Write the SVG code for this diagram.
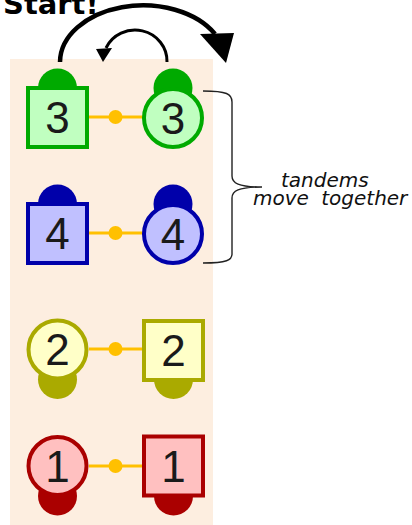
<svg xmlns="http://www.w3.org/2000/svg" width="412" height="525" viewBox="0 0 412 525">
<style>
.num{font-family:"Liberation Sans",Arial,sans-serif;font-size:44px;text-anchor:middle;fill:#1a1a1a}
.note{font-family:"DejaVu Sans",Verdana,sans-serif;font-size:20px;font-style:italic;fill:#111}
.title{font-family:"DejaVu Sans",Verdana,sans-serif;font-size:29px;font-weight:bold;fill:#000}
.link{stroke:#FFC000;stroke-width:3;fill:none}
.dot{fill:#FFC000}
.g .body{fill:#C0FFC0;stroke:#00AA00;stroke-width:4}.g .dome{fill:#00AA00}
.b .body{fill:#C0C0FF;stroke:#0000AA;stroke-width:4}.b .dome{fill:#0000AA}
.y .body{fill:#FFFFC8;stroke:#AAAA00;stroke-width:4}.y .dome{fill:#AAAA00}
.r .body{fill:#FFC0C0;stroke:#AA0000;stroke-width:4}.r .dome{fill:#AA0000}
.arc{fill:none;stroke:#000}
</style>
<rect x="10" y="59" width="203" height="470" fill="#FDEEE0"/>
<text class="title" x="3" y="14">Start!</text>
<g id="connectors">
<path class="arc" stroke-width="4.5" d="M60,62 A83,57 0 0 1 215,34"/>
<polygon points="200,34 234,33 226,63" fill="#000"/>
<path class="arc" stroke-width="3" d="M167,62 A32,31 0 0 0 106,48"/>
<polygon points="96,49 112,48 103,62" fill="#000"/>
<line class="link" x1="89" y1="117" x2="144" y2="117"/><circle class="dot" cx="115.5" cy="117" r="7"/>
<line class="link" x1="89" y1="233" x2="144" y2="233"/><circle class="dot" cx="115.5" cy="233" r="7"/>
<line class="link" x1="89" y1="349" x2="144" y2="349"/><circle class="dot" cx="115.5" cy="349" r="7"/>
<line class="link" x1="89" y1="466" x2="144" y2="466"/><circle class="dot" cx="115.5" cy="466" r="7"/>
</g>
<g id="sq3" class="g"><circle class="dome" cx="57.5" cy="88" r="19.5"/><rect class="body" x="28" y="88" width="59" height="59"/><text class="num" x="57.5" y="133">3</text></g>
<g id="ci3" class="g"><circle class="dome" cx="173" cy="88" r="19.5"/><circle class="body" cx="173" cy="118" r="29"/><text class="num" x="173" y="133.5">3</text></g>
<g id="sq4" class="b"><circle class="dome" cx="57.5" cy="204" r="19.5"/><rect class="body" x="28" y="204" width="59" height="59"/><text class="num" x="57.5" y="249">4</text></g>
<g id="ci4" class="b"><circle class="dome" cx="173" cy="204" r="19.5"/><circle class="body" cx="173" cy="234" r="29"/><text class="num" x="173" y="249.5">4</text></g>
<g id="ci2" class="y"><circle class="dome" cx="57.5" cy="379.5" r="19.5"/><circle class="body" cx="57.5" cy="349.5" r="29"/><text class="num" x="57.5" y="365">2</text></g>
<g id="sq2" class="y"><circle class="dome" cx="173.5" cy="379.5" r="19.5"/><rect class="body" x="144" y="321" width="59" height="59"/><text class="num" x="173.5" y="365.5">2</text></g>
<g id="ci1" class="r"><circle class="dome" cx="57.5" cy="496" r="19.5"/><circle class="body" cx="57.5" cy="466" r="29"/><text class="num" x="57.5" y="482">1</text></g>
<g id="sq1" class="r"><circle class="dome" cx="173.5" cy="496" r="19.5"/><rect class="body" x="144" y="436.5" width="59" height="59"/><text class="num" x="173.5" y="482">1</text></g>
<g id="brace">
<path d="M203,91 C227,91 232,94 232,102 L232,176 C232,183 238,187 262,187 C238,187 232,191 232,198 L232,254 C232,260 227,263 203,263" fill="none" stroke="#222" stroke-width="1.4"/>
<text class="note" x="281" y="187">tandems</text>
<text class="note" x="253" y="205" word-spacing="6">move together</text>
</g>
</svg>
